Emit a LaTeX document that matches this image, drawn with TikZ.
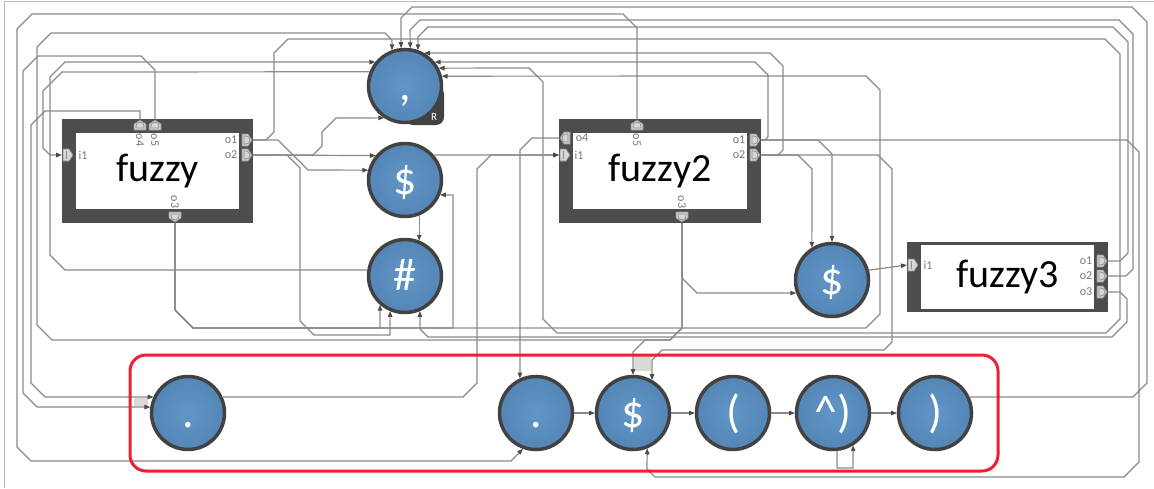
\documentclass[tikz,border=0pt]{standalone}
\usepackage{fontspec}
\setmainfont{Carlito}
\usepackage{tikz}
\usetikzlibrary{arrows.meta}
\definecolor{boxdark}{RGB}{77,77,77}
\definecolor{ballin}{RGB}{96,150,198}
\definecolor{ballout}{RGB}{84,134,182}
\definecolor{ballrim}{RGB}{66,66,66}
\definecolor{wiregray}{RGB}{138,138,138}
\definecolor{tipgray}{RGB}{75,75,75}
\definecolor{portfill}{RGB}{214,214,214}
\definecolor{portdraw}{RGB}{140,140,140}
\definecolor{labelgray}{RGB}{120,120,120}
\definecolor{framegray}{RGB}{185,185,185}
\definecolor{bundlegray}{RGB}{218,218,212}
\definecolor{grpred}{RGB}{236,32,52}
\newcommand{\boxfont}{\fontsize{40}{42}\selectfont}
\newcommand{\ballfont}{\fontsize{46}{48}\selectfont}
\newcommand{\portfont}{\fontsize{12}{13}\selectfont}
\tikzset{
  ball/.style={circle, draw=ballrim, line width=3.5pt, inner color=ballin, outer color=ballout, minimum size=73, inner sep=0pt, outer sep=1.5pt, text=white, font=\ballfont, text height=33pt, text depth=3.5pt},
  boxouter/.style={fill=boxdark, inner sep=0pt, outer sep=0pt},
  boxinner/.style={fill=white, inner sep=0pt, outer sep=0pt, font=\boxfont},
  wire/.style={draw=wiregray, line width=1.2pt, -{Triangle[length=6pt,width=4.5pt,color=tipgray]}},
  portline/.style={draw=portdraw, fill=portfill, line width=0.7pt},
  plabel/.style={font=\portfont, text=labelgray, inner sep=0pt},
  redgroup/.style={draw=grpred, line width=3pt, rounded corners=16pt},
  inport/.pic={\draw[portline] (0,-6) -- (6,-6) -- (10,0) -- (6,6) -- (0,6) -- cycle;
    \draw[portdraw, line width=0.7pt] (3,-4) -- (3,4);},
  outport/.pic={\draw[portline] (0,-6) -- (6,-6) -- (10,0) -- (6,6) -- (0,6) -- cycle;
    \draw[portdraw, line width=0.7pt] (2,-4) -- (4,-4) arc (-90:90:4) -- (2,4) -- cycle;},
}
\begin{document}
\begin{tikzpicture}[x=1pt,y=-1pt]
    \useasboundingbox (0,0) rectangle (1154,488);
    % frame
    \draw[framegray, line width=1pt] (4,488) -- (4,1) -- (1154,1);
    % boxes
    \node[boxouter, minimum width=191, minimum height=104] (fz) at (157.5,171) {};
    \node[boxinner, minimum width=163, minimum height=76] (fzin) at (fz) {fuzzy};
    \node[boxouter, minimum width=202, minimum height=104] (fz2) at (660,171) {};
    \node[boxinner, minimum width=174, minimum height=76] (fz2in) at (fz2) {fuzzy2};
    \node[boxouter, minimum width=201, minimum height=70] (fz3) at (1007.5,277) {};
    \node[boxinner, minimum width=173, minimum height=64] (fz3in) at (fz3) {fuzzy3};
    % ports
    \coordinate (fz-i1) at (62,155);   \coordinate (fz-o1) at (253,140);
    \coordinate (fz-o2) at (253,155);  \coordinate (fz-o4) at (140,119);
    \coordinate (fz-o5) at (155,119);  \coordinate (fz-o3) at (175,223);
    \coordinate (fz2-o4) at (559,138); \coordinate (fz2-i1) at (559,155);
    \coordinate (fz2-o5) at (637,119); \coordinate (fz2-o1) at (761,140);
    \coordinate (fz2-o2) at (761,155); \coordinate (fz2-o3) at (682,223);
    \coordinate (fz3-i1) at (907,265); \coordinate (fz3-o1) at (1108,261);
    \coordinate (fz3-o2) at (1108,276); \coordinate (fz3-o3) at (1108,292);
    \pic at (63,155) {inport};
    \pic at (242,140) {outport};
    \pic at (242,155) {outport};
    \pic[rotate=90] at (140,130) {outport};
    \pic[rotate=90] at (155,130) {outport};
    \pic[rotate=-90] at (175,212) {outport};
    \pic[rotate=180] at (570,138) {outport};
    \pic at (560,155) {inport};
    \pic[rotate=90] at (637,130) {outport};
    \pic at (750,140) {outport};
    \pic at (750,155) {outport};
    \pic[rotate=-90] at (682,212) {outport};
    \pic at (908,265) {inport};
    \pic at (1097,261) {outport};
    \pic at (1097,276) {outport};
    \pic at (1097,292) {outport};
    % port labels
    \node[plabel] at (83,155) {i1};
    \node[plabel] at (231,140) {o1};
    \node[plabel] at (231,155) {o2};
    \node[plabel, rotate=-90] at (140,140) {o4};
    \node[plabel, rotate=-90] at (155,140) {o5};
    \node[plabel, rotate=-90] at (175,202) {o3};
    \node[plabel] at (582,138) {o4};
    \node[plabel] at (579,155) {i1};
    \node[plabel, rotate=-90] at (637,140) {o5};
    \node[plabel] at (739,140) {o1};
    \node[plabel] at (739,155) {o2};
    \node[plabel, rotate=-90] at (682,202) {o3};
    \node[plabel] at (928,265) {i1};
    \node[plabel] at (1086,261) {o1};
    \node[plabel] at (1086,276) {o2};
    \node[plabel] at (1086,292) {o3};
    % states
    \fill[ballrim, rounded corners=8pt] (405,86) rectangle (444,125);
    \node[ball] (comma) at (405,86) {,};
    \node[font=\fontsize{11}{12}\selectfont, text=white, inner sep=0pt] (commaR) at (434,117) {R};
    \node[ball] (dolA) at (405,180) {\$};
    \node[ball] (hash) at (405,276) {\#};
    \node[ball] (dolB) at (832,280) {\$};
    \node[ball] (dotA) at (188,413) {.};
    \node[ball] (dotB) at (536,413) {.};
    \node[ball] (dolC) at (633,413) {\$};
    \node[ball] (lpar) at (733,413) {(};
    \node[ball] (caret) at (833,413) {\textasciicircum)};
    \node[ball] (rpar) at (935,413) {)};
    % bundles
    \fill[bundlegray] (634,356) rectangle (651,371);
    \fill[bundlegray] (134,398) rectangle (148,406);
    % wires from fuzzy
    \draw[wire] (fz-o5) -- (155,70) -- (141,56) -- (38,56) -- (23,71) -- (23,393) -- (37,407) -- (dotA.171);
    \draw[wire] (fz-o4) -- (140,111) -- (45,111) -- (31,125) -- (31,383) -- (45,397) -- (dotA.155);
    \draw[wire] (fz-o1) -- (278,140) -- (308,170) -- (dolA.165);
    \draw[wire] (fz-o1) -- (266,140) -- (274,132) -- (274,53) -- (288,39) -- (1105,39) -- (1120,54) -- (1120,319) -- (1106,333) -- (557,333) -- (543,319) -- (543,82) -- (529,68) -- (comma.28);
    \draw[wire] (fz-o2) -- (dolA.140);
    \draw[wire] (fz-o2) -- (313,155) -- (322,146) -- (322,132) -- (336,118) -- (comma.237);
    \draw[wire] (fz-o2) -- (287,155) -- (300,168) -- (300,321) -- (314,335) -- (390,335) -- (hash.247);
    \draw[wire] (fz-o3) -- (175,310) -- (193,328) -- (380,328) -- (hash.229);
    \draw[wire] (fz-o3) -- (175,310) -- (193,328) -- (453,328) -- (453,195) -- (dolA.337);
    \draw[wire] (fz-o3) -- (175,310) -- (193,328) -- (866,328) -- (880,314) -- (880,90) -- (866,76) -- (comma.15);
    % column wires
    \draw[wire] (hash.171) -- (65,270) -- (50,255) -- (50,77) -- (65,62) -- (comma.141);
    \draw[wire] (comma.158) -- (62,72) -- (43,91) -- (43,148) -- (50,155) -- (fz-i1);
    \draw[wire] (dolA.292) -- (hash.68);
    \draw[wire] (dolA.41) -- (fz2-i1);
    \draw[wire] (dotA.25) -- (463,397) -- (477,383) -- (477,169) -- (491,155) -- (fz2-i1);
    % wires from fuzzy2
    \draw[wire] (fz2-o4) -- (532,138) -- (520,150) -- (dotB.115);
    \draw[wire] (fz2-o5) -- (637,28) -- (623,14) -- (32,14) -- (17,29) -- (17,447) -- (31,461) -- (511,461) -- (dotB.250);
    \draw[wire] (fz2-o3) -- (682,278) -- (697,293) -- (dolB.200);
    \draw[wire] (fz2-o3) -- (682,328) -- (670,340) -- (52,340) -- (37,325) -- (37,47) -- (51,33) -- (385,33) -- (392,40) -- (comma.110);
    \draw[wire] (fz2-o3) -- (682,328) -- (670,340) -- (645,340) -- (633,352) -- (dolC.north);
    \draw[wire] (fz2-o2) -- (878,155) -- (892,169) -- (892,342) -- (884,350) -- (662,350) -- (652,360) -- (dolC.60);
    \draw[wire] (fz2-o2) -- (798,155) -- (812,169) -- (dolB.122);
    \draw[wire] (fz2-o1) -- (818,140) -- (832,154) -- (dolB.north);
    \draw[wire] (fz2-o1) -- (1127,140) -- (1139,152) -- (1139,462) -- (1124,477) -- (655,477) -- (647,469) -- (dolC.292);
    \draw[wire] (fz2-o1) -- (765,140) -- (768,137) -- (768,75) -- (755,62) -- (comma.39);
    \draw[wire] (fz2-o2) -- (778,155) -- (783,150) -- (783,66) -- (770,53) -- (comma.60);
    % wires from fuzzy3 and dolB
    \draw[wire] (dolB.15) -- (fz3-i1);
    \draw[wire] (fz3-o1) -- (1120,261) -- (1128,253) -- (1128,42) -- (1113,27) -- (428,27) -- (418,37) -- (comma.70);
    \draw[wire] (fz3-o2) -- (1126,276) -- (1133,269) -- (1133,34) -- (1119,20) -- (420,20) -- (410,30) -- (comma.82);
    \draw[wire] (fz3-o3) -- (1120,292) -- (1127,299) -- (1127,322) -- (1112,337) -- (428,337) -- (420,329) -- (hash.293);
    % bottom chain
    \draw[wire] (dotB) -- (dolC);
    \draw[wire] (dolC) -- (lpar);
    \draw[wire] (lpar) -- (caret);
    \draw[wire] (caret) -- (rpar);
    \draw[wire] (caret.276) -- (837,468) -- (853,468) -- (caret.302);
    \draw[wire] (rpar.25) -- (1133,397) -- (1147,383) -- (1147,22) -- (1132,7) -- (412,7) -- (401,18) -- (comma.96);
    % highlighted group
    \draw[redgroup] (130,355) rectangle (998,471);
\end{tikzpicture}
\end{document}
